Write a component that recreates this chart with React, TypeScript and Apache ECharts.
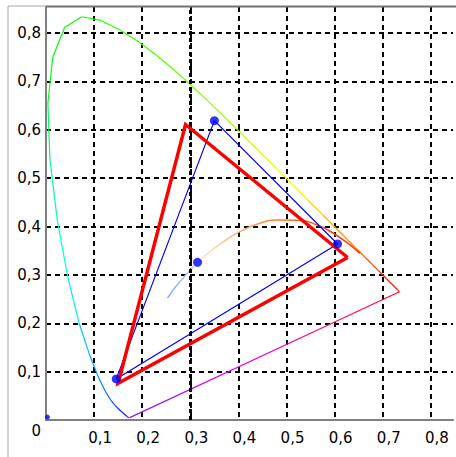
import React, { useEffect, useRef } from "react";
import * as echarts from "echarts";

// CIE 1931 spectral locus (wavelength nm, x, y)
const locusWL = [380, 400, 420, 430, 440, 445, 450, 455, 460, 465, 470, 475, 480, 485, 490, 495, 500, 505, 510, 515, 520, 525, 530, 535, 540, 545, 550, 555, 560, 565, 570, 575, 580, 585, 590, 595, 600, 605, 610, 615, 620, 625, 630, 635, 640, 645, 650, 660, 670, 680, 700];
const locusX = [0.1741, 0.1733, 0.1714, 0.1689, 0.1644, 0.1611, 0.1566, 0.1510, 0.1440, 0.1355, 0.1241, 0.1096, 0.0913, 0.0687, 0.0454, 0.0235, 0.0082, 0.0039, 0.0139, 0.0389, 0.0743, 0.1142, 0.1547, 0.1929, 0.2296, 0.2658, 0.3016, 0.3373, 0.3731, 0.4087, 0.4441, 0.4788, 0.5125, 0.5448, 0.5752, 0.6029, 0.6270, 0.6482, 0.6658, 0.6801, 0.6915, 0.7006, 0.7079, 0.7140, 0.7190, 0.7230, 0.7260, 0.7300, 0.7320, 0.7334, 0.7347];
const locusY = [0.0050, 0.0048, 0.0051, 0.0069, 0.0109, 0.0138, 0.0177, 0.0227, 0.0297, 0.0399, 0.0578, 0.0868, 0.1327, 0.2007, 0.2950, 0.4127, 0.5384, 0.6548, 0.7502, 0.8120, 0.8338, 0.8262, 0.8059, 0.7816, 0.7543, 0.7243, 0.6923, 0.6589, 0.6245, 0.5896, 0.5547, 0.5202, 0.4866, 0.4544, 0.4242, 0.3965, 0.3725, 0.3514, 0.3340, 0.3197, 0.3083, 0.2993, 0.2920, 0.2859, 0.2809, 0.2770, 0.2740, 0.2700, 0.2680, 0.2666, 0.2653];

// Planckian locus (from hot to cold)
const planckX = [0.2525, 0.2565, 0.2637, 0.2807, 0.2952, 0.3064, 0.3221, 0.3451, 0.3805, 0.4053, 0.4369, 0.4770, 0.5267, 0.5646, 0.5857, 0.6251, 0.6528];
const planckY = [0.2523, 0.2577, 0.2683, 0.2884, 0.3048, 0.3166, 0.3318, 0.3516, 0.3768, 0.3907, 0.4041, 0.4137, 0.4133, 0.4029, 0.3931, 0.3674, 0.3444];

// Gamut triangles (R, G, B)
const blueGamutX = [0.606, 0.350, 0.146];
const blueGamutY = [0.364, 0.619, 0.085];
const redGamutX = [0.627, 0.290, 0.150];
const redGamutY = [0.336, 0.611, 0.076];
const whitePoint = [0.315, 0.326];
const originDot = [0.003, 0.006];

const xTickLabels = ["0", "0,1", "0,2", "0,3", "0,4", "0,5", "0,6", "0,7", "0,8"];
const yTickLabels = ["0", "0,1", "0,2", "0,3", "0,4", "0,5", "0,6", "0,7", "0,8"];

function wlColor(wl: number): string {
  let r = 0, g = 0, b = 0;
  if (wl < 440) { r = -(wl - 440) / 60; g = 0; b = 1; }
  else if (wl < 490) { r = 0; g = Math.pow((wl - 440) / 50, 1.6); b = 1; }
  else if (wl < 510) { r = 0; g = 1; b = -(wl - 510) / 20; }
  else if (wl < 580) { r = Math.pow((wl - 510) / 70, 1.4); g = 1; b = 0; }
  else if (wl < 645) { r = 1; g = Math.pow(-(wl - 645) / 65, 1.8); b = 0; }
  else { r = 1; g = 0; b = 0; }
  const h = (v: number) => Math.round(Math.max(0, Math.min(1, v)) * 255);
  return `rgb(${h(r)},${h(g)},${h(b)})`;
}

function tickLabel(labels: string[], v: number): string {
  const i = Math.round(v * 10);
  if (Math.abs(v * 10 - i) > 1e-6) return "";
  return labels[i] ?? "";
}

export default function App() {
  const ref = useRef<HTMLDivElement>(null);
  useEffect(() => {
    if (!ref.current) return;
    const chart = echarts.init(ref.current, null, { renderer: "svg" });
    const series: any[] = [];

    // spectral locus segments
    for (let i = 0; i < locusX.length - 1; i++) {
      series.push({
        type: "line",
        data: [[locusX[i], locusY[i]], [locusX[i + 1], locusY[i + 1]]],
        showSymbol: false,
        lineStyle: { color: wlColor((locusWL[i] + locusWL[i + 1]) / 2), width: 1.2 },
        silent: true,
        z: 3,
      });
    }
    // purple line
    const last = locusX.length - 1;
    series.push({
      type: "line",
      data: [[locusX[0], locusY[0]], [locusX[last], locusY[last]]],
      showSymbol: false,
      lineStyle: {
        width: 1.2,
        color: new echarts.graphic.LinearGradient(0, 0, 1, 0, [
          { offset: 0, color: "#7a20f0" },
          { offset: 0.35, color: "#e000ff" },
          { offset: 0.7, color: "#ff1080" },
          { offset: 1, color: "#ff0020" },
        ]),
      },
      silent: true,
      z: 3,
    });
    // planckian locus
    series.push({
      type: "line",
      data: planckX.map((x, i) => [x, planckY[i]]),
      showSymbol: false,
      smooth: true,
      lineStyle: {
        width: 1.5,
        color: new echarts.graphic.LinearGradient(0, 0, 1, 0, [
          { offset: 0, color: "#7fa8ff" },
          { offset: 0.12, color: "#b8ccff" },
          { offset: 0.17, color: "#ffe8d8" },
          { offset: 0.3, color: "#ffc090" },
          { offset: 0.5, color: "#ff9040" },
          { offset: 0.7, color: "#ff6010" },
          { offset: 1, color: "#ff3000" },
        ]),
      },
      silent: true,
      z: 3,
    });
    // blue triangle lines
    series.push({
      type: "line",
      data: [0, 1, 2, 0].map((i) => [blueGamutX[i], blueGamutY[i]]),
      showSymbol: false,
      lineStyle: { color: "#0000ff", width: 1.2 },
      silent: true,
      z: 4,
    });
    // red triangle
    series.push({
      type: "line",
      data: [0, 1, 2, 0].map((i) => [redGamutX[i], redGamutY[i]]),
      showSymbol: false,
      lineStyle: { color: "#ff0000", width: 3.5, join: "miter" },
      silent: true,
      z: 5,
    });
    // dots
    series.push({
      type: "scatter",
      data: [...blueGamutX.map((x, i) => [x, blueGamutY[i]]), whitePoint],
      symbolSize: 9,
      itemStyle: { color: "#0000ff" },
      silent: true,
      z: 6,
    });
    series.push({
      type: "scatter",
      data: [originDot],
      symbolSize: 5,
      itemStyle: { color: "#0000ff" },
      silent: true,
      z: 6,
    });
    // thick 0.3 line
    series.push({
      type: "line",
      data: [],
      markLine: {
        silent: true,
        symbol: "none",
        label: { show: false },
        lineStyle: { color: "#000", width: 3, type: [4, 3] },
        data: [{ xAxis: 0.3 }],
      },
      z: 2,
    });

    const font = { fontFamily: "DejaVu Sans", fontSize: 15, color: "#000" };
    chart.setOption({
      animation: false,
      backgroundColor: "#fff",
      grid: { left: 46, top: 7, width: 410, height: 413 },
      xAxis: {
        type: "value",
        min: 0,
        max: 0.846,
        interval: 0.1,
        axisLine: { show: true, lineStyle: { color: "#808080", width: 2 } },
        axisTick: { show: false },
        axisLabel: {
          ...font,
          margin: 10,
          padding: [0, 0, 0, 12],
          formatter: (v: number) => (v === 0 ? "" : tickLabel(xTickLabels, v)),
        },
        splitLine: {
          show: true,
          showMinLine: false,
          showMaxLine: false,
          lineStyle: { color: "#000", width: 2, type: [5, 4] },
        },
      },
      yAxis: {
        type: "value",
        min: 0,
        max: 0.854,
        interval: 0.1,
        axisLine: { show: true, lineStyle: { color: "#808080", width: 2 } },
        axisTick: { show: false },
        axisLabel: {
          ...font,
          margin: 5,
          formatter: (v: number) => {
            const t = tickLabel(yTickLabels, v);
            if (v === 0) return "{z|" + t + "}";
            return t;
          },
          rich: { z: { ...font, padding: [22, 0, 0, 0] } },
        },
        splitLine: {
          show: true,
          showMinLine: false,
          showMaxLine: false,
          lineStyle: { color: "#000", width: 2, type: [5, 4] },
        },
      },
      graphic: [
        { type: "line", shape: { x1: 8, y1: 6, x2: 8, y2: 457 }, style: { stroke: "#a8a8a8", lineWidth: 1 }, silent: true },
        { type: "line", shape: { x1: 8, y1: 6, x2: 46, y2: 6 }, style: { stroke: "#a8a8a8", lineWidth: 1 }, silent: true },
        { type: "line", shape: { x1: 46, y1: 6.5, x2: 456, y2: 6.5 }, style: { stroke: "#707070", lineWidth: 2 }, silent: true, z: 100 },
      ],
      series,
    });
    return () => chart.dispose();
  }, []);
  return <div ref={ref} style={{ position: "fixed", left: 0, top: 0, width: 456, height: 457 }} />;
}
